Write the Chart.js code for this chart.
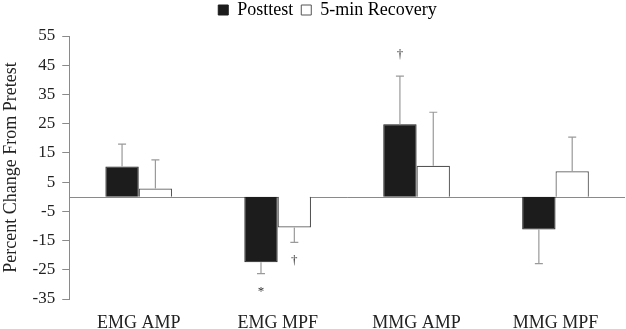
<!DOCTYPE html>
<html>
<head>
<meta charset="utf-8">
<script src="https://cdn.jsdelivr.net/npm/chart.js@4.4.1/dist/chart.umd.min.js"></script>
<style>
  body { margin: 0; background: #fff; }
  #wrap { width: 626px; height: 329px; }
</style>
</head>
<body>
<div id="wrap"><canvas id="Change_Chart"></canvas></div>
<script>
var categories = ["EMG AMP", "EMG MPF", "MMG AMP", "MMG MPF"];
var posttest = [10.3, -22.4, 24.8, -11.2];
var posttestErr = [7.7, 3.9, 16.5, 11.7];
var recovery = [2.8, -10.5, 10.6, 8.7];
var recoveryErr = [9.8, 5.1, 18.3, 11.7];
var yTicks = [-35, -25, -15, -5, 5, 15, 25, 35, 45, 55];
// significance marks: dataset index, category index, symbol
var marks = [
    { ds: 0, idx: 1, text: "*" },
    { ds: 1, idx: 1, text: "\u2020" },
    { ds: 0, idx: 2, text: "\u2020" }
];

var errors = [posttestErr, recoveryErr];
var serif = "'Liberation Serif', 'Times New Roman', serif";

var zeroLine = {
    id: 'zeroLine',
    afterLayout: function (chart) {
        // legend sits a little right of centre and close to the top in the original
        chart.legend.left += 15;
        chart.legend.right += 15;
        chart.legend.top -= 7;
        chart.legend.bottom -= 7;
    },
    beforeDatasetsDraw: function (chart) {
        var ctx = chart.ctx;
        var y0 = Math.round(chart.scales.y.getPixelForValue(0)) + 0.5;
        ctx.save();
        ctx.strokeStyle = '#8a8a8a';
        ctx.lineWidth = 1;
        ctx.beginPath();
        ctx.moveTo(chart.chartArea.left, y0);
        ctx.lineTo(chart.chartArea.right, y0);
        ctx.stroke();
        ctx.restore();
    }
};

var errorBars = {
    id: 'errorBars',
    afterDatasetsDraw: function (chart) {
        var ctx = chart.ctx;
        var y = chart.scales.y;
        ctx.save();
        chart.data.datasets.forEach(function (ds, d) {
            var meta = chart.getDatasetMeta(d);
            meta.data.forEach(function (bar, i) {
                var v = ds.data[i];
                var e = errors[d][i];
                var end = y.getPixelForValue(v >= 0 ? v + e : v - e);
                ctx.strokeStyle = '#9a9a9a';
                ctx.lineWidth = 1.2;
                ctx.beginPath();
                ctx.moveTo(bar.x, bar.y);
                ctx.lineTo(bar.x, end);
                ctx.moveTo(bar.x - 4, end);
                ctx.lineTo(bar.x + 4, end);
                ctx.stroke();
            });
        });
        ctx.fillStyle = '#333';
        ctx.font = "13px " + serif;
        ctx.textAlign = 'center';
        ctx.textBaseline = 'middle';
        marks.forEach(function (m) {
            var v = chart.data.datasets[m.ds].data[m.idx];
            var e = errors[m.ds][m.idx];
            var bar = chart.getDatasetMeta(m.ds).data[m.idx];
            var end = y.getPixelForValue(v >= 0 ? v + e : v - e);
            var off = v >= 0 ? -21 : 18;
            ctx.fillText(m.text, bar.x, end + off);
        });
        ctx.restore();
    }
};

new Chart(document.getElementById("Change_Chart").getContext("2d"), {
    type: 'bar',
    data: {
        labels: categories,
        datasets: [{
            label: "Posttest",
            data: posttest,
            backgroundColor: '#1c1c1c',
            borderColor: '#1c1c1c',
            borderWidth: 1
        }, {
            label: "5-min Recovery",
            data: recovery,
            backgroundColor: '#ffffff',
            borderColor: '#555555',
            borderWidth: 1.2
        }]
    },
    options: {
        responsive: true,
        maintainAspectRatio: false,
        animation: false,
        categoryPercentage: 0.48,
        barPercentage: 1.0,
        layout: { padding: { left: 0, right: 1, top: 0, bottom: 0 } },
        plugins: {
            tooltip: { enabled: false },
            legend: {
                position: 'top',
                labels: {
                    color: '#222',
                    font: { family: serif, size: 18 },
                    boxWidth: 10,
                    boxHeight: 10,
                    padding: 8,
                    generateLabels: function (chart) {
                        return chart.data.datasets.map(function (ds, i) {
                            return {
                                text: ds.label,
                                fillStyle: ds.backgroundColor,
                                strokeStyle: ds.borderColor,
                                lineWidth: 1,
                                datasetIndex: i
                            };
                        });
                    }
                }
            }
        },
        scales: {
            x: {
                grid: { display: false, drawTicks: false },
                border: { display: false },
                ticks: { color: '#222', font: { family: serif, size: 18 }, padding: 13 },
                afterFit: function (axis) { axis.height = 30; }
            },
            y: {
                min: -35,
                max: 55,
                afterBuildTicks: function (axis) {
                    axis.ticks = yTicks.map(function (v) { return { value: v }; });
                },
                grid: {
                    drawOnChartArea: false,
                    color: '#8a8a8a',
                    tickColor: '#8a8a8a',
                    tickLength: 7
                },
                border: { display: true, color: '#8a8a8a', width: 1 },
                ticks: { color: '#222', font: { family: serif, size: 17 }, padding: 7 },
                title: {
                    display: true,
                    text: 'Percent Change From Pretest',
                    color: '#222',
                    font: { family: serif, size: 18 },
                    padding: { top: 0, bottom: 4 }
                }
            }
        }
    },
    plugins: [zeroLine, errorBars]
});
</script>
</body>
</html>
